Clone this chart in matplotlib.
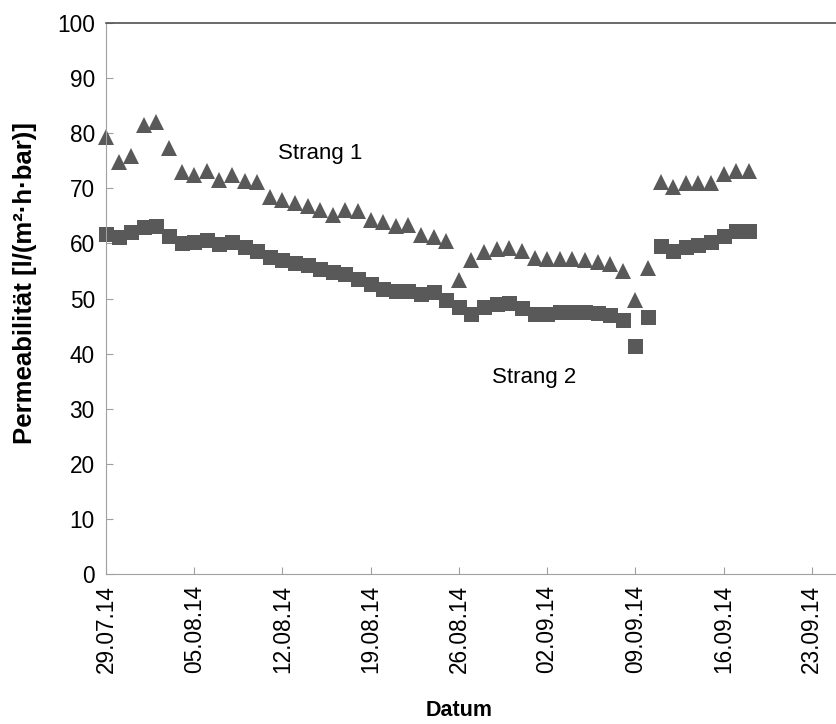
import datetime as dt
import matplotlib
matplotlib.use('Agg')
import matplotlib.pyplot as plt
import matplotlib.dates as mdates

plt.rcParams['font.family'] = ['Liberation Sans', 'DejaVu Sans']

start = dt.date(2014, 7, 29)
days = list(range(52))

strang1 = [79.3, 74.8, 75.9, 81.5, 82.1, 77.3, 73.0, 72.5, 73.1, 71.5,
           72.4, 71.4, 71.1, 68.5, 67.8, 67.4, 66.8, 66.1, 65.2, 66.1,
           65.8, 64.2, 63.8, 63.2, 63.3, 61.6, 61.2, 60.5, 53.4, 57.0,
           58.4, 59.0, 59.2, 58.7, 57.3, 57.1, 57.2, 57.2, 57.0, 56.7,
           56.2, 55.0, 49.7, 55.5, 71.1, 70.2, 71.0, 70.9, 71.0, 72.6,
           73.2, 73.2]
strang2 = [61.7, 61.2, 62.0, 62.9, 63.2, 61.4, 60.0, 60.2, 60.6, 59.9,
           60.3, 59.3, 58.7, 57.5, 56.9, 56.4, 56.0, 55.4, 54.8, 54.4,
           53.5, 52.6, 51.8, 51.4, 51.4, 50.9, 51.1, 49.7, 48.5, 47.2,
           48.4, 49.0, 49.1, 48.3, 47.2, 47.1, 47.5, 47.5, 47.5, 47.3,
           47.0, 46.1, 41.4, 46.6, 59.6, 58.7, 59.4, 59.7, 60.2, 61.4,
           62.2, 62.2]

tick_days = [0, 7, 14, 21, 28, 35, 42, 49, 56]

dates = [start + dt.timedelta(days=d) for d in days]
tick_dates = [start + dt.timedelta(days=d) for d in tick_days]

fig = plt.figure(figsize=(8.37, 7.24), dpi=100)
ax = fig.add_axes([0.1266, 0.2072, 0.8734, 0.7610])

grey = '#595959'
ax.plot(dates, strang1, linestyle='none', marker='^', markersize=12,
        color=grey, markeredgewidth=0, clip_on=False)
ax.plot(dates, strang2, linestyle='none', marker='s', markersize=10.8,
        color=grey, markeredgewidth=0, clip_on=False)

ax.text(start + dt.timedelta(days=17.8), 76.4, 'Strang 1', fontsize=16,
        ha='center', va='center')
ax.text(start + dt.timedelta(days=34.5), 35.7, 'Strang 2', fontsize=16,
        ha='center', va='center')

ax.set_xlim(start, start + dt.timedelta(days=58.15))
ax.set_ylim(0, 100)
ax.set_yticks(range(0, 101, 10))
ax.set_xticks(tick_dates)
ax.xaxis.set_major_formatter(mdates.DateFormatter('%d.%m.%y'))
plt.setp(ax.get_xticklabels(), rotation=90)

ax.spines['right'].set_visible(False)
for s in ['left', 'bottom']:
    ax.spines[s].set_color('#a0a0a0')
ax.spines['top'].set_color('#505050')
ax.spines['top'].set_linewidth(1.2)
ax.tick_params(direction='in', length=5, color='#a0a0a0', labelsize=16.3,
               pad=8)

ax.set_ylabel('Permeabilität [l/(m²·h·bar)]', fontsize=18.5, fontweight='bold')
ax.yaxis.set_label_coords(-0.094, 0.528)
ax.set_xlabel('Datum', fontsize=15.5, fontweight='bold')
ax.xaxis.set_label_coords(0.483, -0.228)

fig.savefig('out.png', dpi=100)
